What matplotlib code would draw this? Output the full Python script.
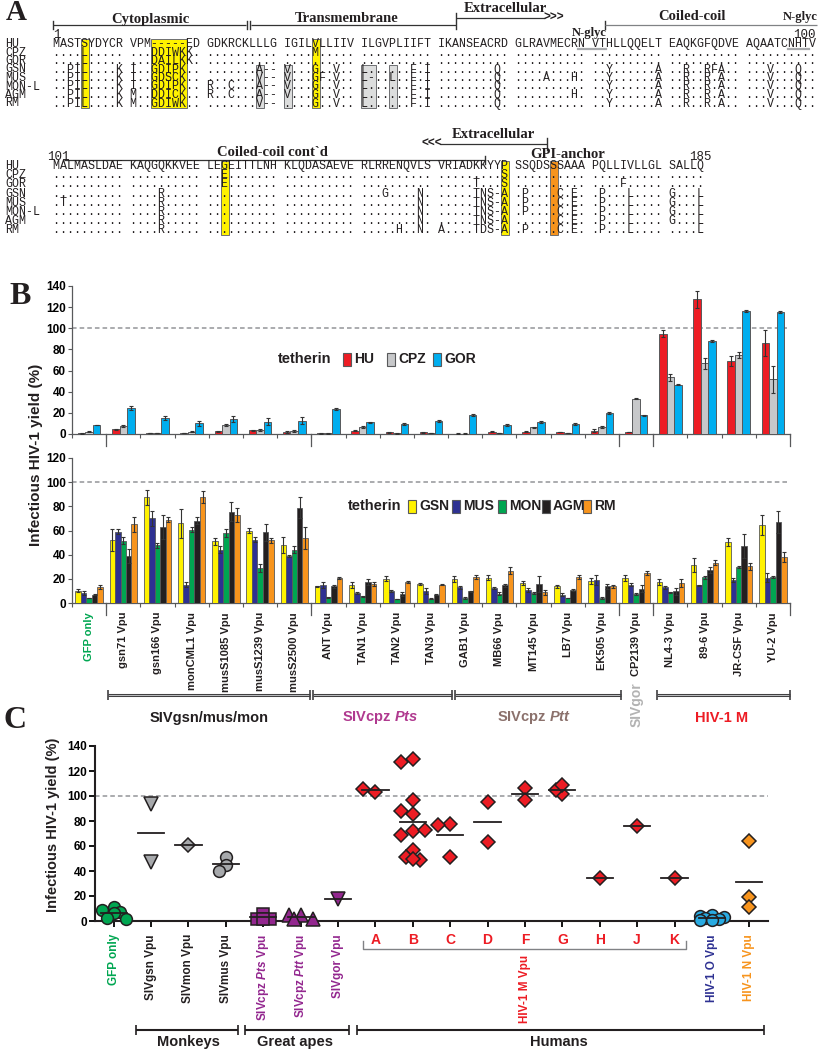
import numpy as np
import matplotlib.pyplot as plt
from matplotlib.patches import Rectangle
from matplotlib.transforms import blended_transform_factory

plt.rcParams['font.family'] = ['Liberation Sans', 'DejaVu Sans']
plt.rcParams['mathtext.fontset'] = 'custom'
plt.rcParams['mathtext.rm'] = 'Liberation Sans:bold'
plt.rcParams['mathtext.it'] = 'Liberation Sans:bold:italic'
plt.rcParams['mathtext.bf'] = 'Liberation Sans:bold'

# ---------------- A: tetherin alignment ----------------
names = ['HU', 'CPZ', 'GOR', 'GSN', 'MUS', 'MON-L', 'AGM', 'RM']
aln1 = [
    "MASTSYDYCR VPM-----ED GDKRCKLLLG IGILVLLIIV ILGVPLIIFT IKANSEACRD GLRAVMECRN VTHLLQQELT EAQKGFQDVE AQAATCNHTV",
    "....L..... ...DDIWKK. .......... ....M..... .......... .......... .......... .......... .......... ..........",
    "....L..... ...DAILKK. .......... .......... .......... .......... .......... .......... .......... ..........",
    "..PIL....K I..GDIPK.. .......A-- V...G..V.. L......F.I ........Q. .......... ..Y......A ..R..RFA.. ...V...Q..",
    "..PIL....K I..GDSCK.. .......V-- V...GF.V.. L-..L..F.I ........Q. ....A...H. ..Y......A ..R..R.A.. ...V...Q..",
    "..PIL....K I..GDIPK.. R..C...A-- V...G..V.. L......F.I ........Q. .......... ..Y......A ..R..R.A.. ...V...Q..",
    "..PIL....K M..DDICK.. R..C...A-- V...G..V.. L......F.I ........Q. ........H. ..Y......A ..R..R.A.. ...V...Q..",
    "..PIL....K M..GDIWK.. .......V-- ....G..V.. L......F.I ........Q. .......... ..Y......A ..R..R.A.. ...V...Q..",
]
aln2 = [
    "MALMASLDAE KAQGQKKVEE LEGEITTLNH KLQDASAEVE RLRRENQVLS VRIADKKYYP SSQDSSSAAA PQLLIVLLGL SALLQ",
    ".......... .......... ..E....... .......... .......... .........S .......... .......... .....",
    ".......... .......... ..E....... .......... .......... .....T...S .......... ....F..... .....",
    ".......... ....R..... .......... .......... ...G....N. .....TNS-A .P....C.E. .P...L.... G...L",
    ".T........ ....R..... .......... .......... ........N. .....TNS-A .P....C.E. .P...L.... G...L",
    ".......... ....R..... .......... .......... ........N. .....TNS-A .P....C.E. .P...L.... G...L",
    ".......... ....R..... .......... .......... ........N. .....TNS-A ......C.E. .P...L.... G...L",
    ".......... ....R..... .......... .......... .....H..N. A....TDS-A .P....C.E. .P...L.... ....L",
]

# ---------------- B: infectious yield with tetherin variants ----------------
cats_b = ['GFP only', 'gsn71 Vpu', 'gsn166 Vpu', 'monCML1 Vpu', 'musS1085 Vpu', 'musS1239 Vpu',
          'musS2500 Vpu', 'ANT Vpu', 'TAN1 Vpu', 'TAN2 Vpu', 'TAN3 Vpu', 'GAB1 Vpu', 'MB66 Vpu',
          'MT145 Vpu', 'LB7 Vpu', 'EK505 Vpu', 'CP2139 Vpu', 'NL4-3 Vpu', '89-6 Vpu', 'JR-CSF Vpu',
          'YU-2 Vpu']
hu = [0.5, 4.4, 1, 1, 2.8, 3.5, 2, 0.5, 3, 1.5, 1.5, 0.3, 2.2, 2.3, 2, 3, 1.9, 95, 127.5, 69, 86]
hu_err = [0.3, 0.5, 0.3, 0.3, 0.5, 0.5, 0.8, 0.3, 0.5, 0.3, 0.3, 0.3, 0.3, 0.3, 0.3, 1.5, 0.3, 3, 8, 5, 12]
cpz = [2, 7.6, 1, 2.2, 8.5, 4.1, 3, 0.5, 6.3, 0.5, 1, 0.3, 1, 6.3, 1, 6.3, 33.4, 53.6, 66.8, 74.7, 51.7]
cpz_err = [0.5, 1, 0.3, 0.5, 0.5, 1, 0.8, 0.3, 0.8, 0.3, 0.3, 0.3, 0.3, 0.5, 0.3, 0.8, 0.5, 3, 5, 3, 13]
gor = [8.5, 24.3, 14.8, 10, 13.9, 11.7, 12.6, 23.3, 11, 9.4, 12.5, 18, 8.5, 11.6, 9.4, 19.5, 17.9, 46.4, 88.3, 116, 115.7]
gor_err = [0.3, 2, 2, 2.5, 3, 3.5, 3.5, 1, 0.5, 1, 1, 0.5, 0.8, 1, 0.8, 1, 0.5, 0.5, 1, 1, 1]

gsn = [10.2, 52, 87.5, 66, 51, 60, 48, 13.8, 15.2, 20, 15.7, 20, 21, 16.5, 13.8, 18.5, 21, 17.5, 31.5, 50.5, 64.5]
gsn_err = [1, 9, 6, 12, 3, 2, 7, 0.5, 2.5, 2, 1, 2.5, 2, 2, 1, 2.5, 2.5, 2.5, 5.5, 3.5, 8]
mus = [8.3, 59, 70, 15, 44, 52.5, 39, 15, 8.3, 9.7, 9.7, 13, 12.4, 11, 7, 19.3, 15.2, 13, 14.6, 19, 21]
mus_err = [1.5, 2, 6, 2, 3, 2, 1, 2.5, 0.5, 1, 2.5, 1, 1, 1.5, 1.5, 4, 1, 1, 0.5, 1.5, 4]
mon = [4.1, 51.5, 47.7, 60.7, 58, 29, 44, 4.7, 5.5, 3.3, 3.7, 4.1, 7.7, 8.3, 4.1, 3.9, 7.4, 8.8, 21.2, 29.8, 21.5]
mon_err = [0.3, 3, 2, 2, 3, 3, 3, 0.5, 0.5, 0.3, 0.3, 0.5, 1, 0.5, 0.3, 1, 0.5, 0.5, 1.5, 1, 0.5]
agm = [6.9, 39, 63, 68, 75.5, 58.5, 79, 13.8, 17.4, 7.7, 6.9, 9.7, 14.6, 16, 11, 13.8, 12, 9.7, 27.6, 47, 67]
agm_err = [0.5, 6, 10, 3, 8, 7, 9, 1.5, 2.5, 1.5, 0.5, 0.5, 1.5, 6.5, 1, 2, 3, 3, 2.5, 10, 9]
rm = [13, 65, 69, 88, 73, 52, 53.5, 20.7, 15.7, 17.4, 15.2, 21.5, 26.8, 8.8, 21.5, 13.8, 24.8, 16.6, 33.4, 30.3, 38]
rm_err = [1.5, 6, 2, 5, 6, 2, 9, 1, 1.5, 0.5, 0.5, 1.5, 3, 2, 1.5, 1.5, 2, 3, 2, 3, 4]

# ---------------- C: summary scatter ----------------
gfp_c = [11.5, 9, 7.5, 6.5, 2.5, 2]
gsn_c = [94, 47]
mon_c = [60.5]
mus_c = [51.5, 44.5, 40]
pts_c = [6, 2, 2, 1.5]
ptt_c = [5, 4.5, 2, 1.5]
gor_c = [18]
m_a = [103, 106]
m_b = [129.5, 127.5, 97, 86, 88, 72, 69, 72.5, 57, 51, 48.5, 50]
m_c = [78, 76.5, 51]
m_d = [95.5, 63]
m_f = [106.5, 96.5]
m_g = [101.5, 105, 109]
m_h = [34.5]
m_j = [76]
m_k = [34.5]
o_c = [5, 4, 3, 2.5, 1.5, 1, 0.5]
n_c = [64, 19, 11]

W, H = 821, 1050
fig = plt.figure(figsize=(W / 100, H / 100), dpi=100)
ov = fig.add_axes([0, 0, 1, 1])
ov.set_xlim(0, W)
ov.set_ylim(H, 0)
ov.axis('off')


def frame(l, t, r, b):
    return [l / W, 1 - b / H, (r - l) / W, (b - t) / H]


dark = '#231f20'
serif = 'Liberation Serif'

# ---------- panel A ----------
mono = 'Liberation Mono'
fs_seq = 8.4
cw = 0.6 * fs_seq * 100 / 72  # px per character
sx = 53
yellow, grey, orange = '#fff200', '#dcdddd', '#f7941d'


def alignment(rows, y0, dy, boxes):
    for r, (nm, s) in enumerate(zip(names, rows)):
        y = y0 + r * dy
        ov.text(5, y, nm, family=mono, fontsize=fs_seq, va='center', color=dark, zorder=3)
        ov.text(sx, y, s, family=mono, fontsize=fs_seq, va='center', color=dark, zorder=3)
    for c, n, r0, r1, fc in boxes:
        ov.add_patch(Rectangle((sx + c * cw - 0.5, y0 + (r0 - 0.5) * dy - 0.5), n * cw + 1,
                               (r1 - r0 + 1) * dy + 1, fc=fc, ec='#6d6e71', lw=0.7, zorder=1))


y1, y2 = 44, 166
alignment(aln1, y1, 8.5, [(4, 1, 0, 7, yellow), (14, 5, 0, 7, yellow), (37, 1, 0, 7, yellow),
                          (29, 1, 3, 7, grey), (33, 1, 3, 7, grey), (44, 2, 3, 7, grey), (48, 1, 3, 7, grey)])
alignment(aln2, y2, 9.2, [(24, 1, 0, 7, yellow), (64, 1, 0, 7, yellow), (71, 1, 0, 7, orange)])

# N-glyc underlines
for c0, c1 in [(75, 79), (105, 108)]:
    ov.plot([sx + c0 * cw, sx + c1 * cw], [y1 + 5, y1 + 5], color='#a7a9ac', lw=1.6, zorder=2)


def hdr(x, y, s, size=10.5, ha='center'):
    ov.text(x, y, s, family=serif, weight='bold', fontsize=size, ha=ha, va='center', color=dark)


def hline(xa, xb, y, lw=0.9, color='#333333'):
    ov.plot([xa, xb], [y, y], color=color, lw=lw, solid_capstyle='butt')


def vline(x, ya, yb, lw=1.0):
    ov.plot([x, x], [ya, yb], color='#333333', lw=lw)


ov.text(16, 13, 'A', family=serif, weight='bold', fontsize=21, ha='center', va='center', color=dark)
hdr(150, 19, 'Cytoplasmic')
hline(53, 246, 25)
vline(53, 21, 29)
vline(247, 21, 29)
vline(250, 21, 29)
hline(251, 456, 25)
hdr(347, 19, 'Transmembrane')
vline(456, 13, 29)
hline(456, 545, 18)
hdr(505, 9, 'Extracellular')
ov.text(544, 18, '>>>', weight='bold', fontsize=8.5, va='center', ha='left', color=dark)
vline(605, 21, 29)
hline(605, 817, 25, color='#808285')
hdr(692, 17, 'Coiled-coil')
hdr(800, 17, 'N-glyc', size=9)
hdr(589, 33, 'N-glyc', size=9)
ov.text(53, 35, '1', family=mono, fontsize=9, va='center', ha='left', color=dark)
ov.text(816, 35, '100', family=mono, fontsize=9, va='center', ha='right', color=dark)

ov.text(47, 157, '101', family=mono, fontsize=9, va='center', ha='left', color=dark)
hline(64, 485, 160)
vline(485, 156, 164)
hdr(272, 153, 'Coiled-coil cont`d')
hdr(493, 135, 'Extracellular')
ov.text(422, 144, '<<<', weight='bold', fontsize=8.5, va='center', ha='left', color=dark)
hline(440, 547, 144)
vline(547, 138, 150)
hdr(568, 155, 'GPI-anchor')
ov.text(700, 157, '185', family=mono, fontsize=9, va='center', ha='center', color=dark)

# ---------- panel B ----------
ov.text(20, 296, 'B', family=serif, weight='bold', fontsize=23, ha='center', va='center', color=dark)
xb = np.arange(len(cats_b))
axT = fig.add_axes(frame(72, 286, 790, 434))
axB = fig.add_axes(frame(72, 458, 790, 603))

edge = '#58595b'
top_sets = [(hu, hu_err, '#ed1c24'), (cpz, cpz_err, '#c7c8ca'), (gor, gor_err, '#00aeef')]
for k, (v, e, col) in enumerate(top_sets):
    off = (k - 1) * 0.22
    axT.bar(xb + off, v, 0.22, color=col, edgecolor=edge, lw=0.7, zorder=3)
    axT.errorbar(xb + off, v, yerr=e, fmt='none', ecolor='#333333', elinewidth=0.8,
                 capsize=1.6, capthick=0.8, zorder=4)

bot_sets = [(gsn, gsn_err, '#fff200'), (mus, mus_err, '#2e3192'), (mon, mon_err, '#00a651'),
            (agm, agm_err, '#231f20'), (rm, rm_err, '#f7941d')]
for k, (v, e, col) in enumerate(bot_sets):
    off = (k - 2) * 0.16
    axB.bar(xb + off, v, 0.16, color=col, edgecolor=edge, lw=0.6, zorder=3)
    axB.errorbar(xb + off, v, yerr=e, fmt='none', ecolor='#333333', elinewidth=0.8,
                 capsize=1.4, capthick=0.8, zorder=4)

group_edges = [0.5, 6.5, 15.5, 16.5, 20.5]
for ax, ymax, hpx in [(axT, 140, 148), (axB, 120, 145)]:
    ax.set_facecolor('none')
    ax.set_xlim(-0.5, 20.5)
    ax.set_ylim(0, ymax)
    for s in ['top', 'right']:
        ax.spines[s].set_visible(False)
    for s in ['left', 'bottom']:
        ax.spines[s].set_color(edge)
        ax.spines[s].set_linewidth(0.9)
    ax.spines['left'].set_bounds(0, ymax)
    ax.set_yticks(range(0, ymax + 1, 20))
    ax.tick_params(axis='y', length=3, width=0.8, color=edge, labelsize=8.5, pad=1.5)
    for t in ax.get_yticklabels():
        t.set_fontweight('bold')
    ax.set_xticks(np.arange(-0.5, 21, 1))
    ax.set_xticklabels([])
    ax.tick_params(axis='x', length=3, width=0.8, color=edge)
    ax.axhline(100, color='#939598', ls=(0, (3, 2)), lw=1.1, zorder=1)
    for g in group_edges:
        ax.plot([g, g], [0, -12 / hpx], transform=ax.get_xaxis_transform(), clip_on=False,
                color=edge, lw=0.9)


# legends
def legend_row(x, y, items):
    ov.text(x, y, 'tetherin', fontsize=10.5, weight='bold', va='center', ha='left', color=dark)
    for px, lab, col in items:
        ov.add_patch(Rectangle((px, y - 6.5), 8, 13, fc=col, ec=edge, lw=0.8))
        ov.text(px + 11, y, lab, fontsize=10, weight='bold', va='center', ha='left', color=dark)


legend_row(278, 359, [(343, 'HU', '#ed1c24'), (387, 'CPZ', '#c7c8ca'), (433, 'GOR', '#00aeef')])
legend_row(348, 506, [(408, 'GSN', '#fff200'), (452, 'MUS', '#2e3192'), (498, 'MON', '#00a651'),
                      (542, 'AGM', '#231f20'), (583, 'RM', '#f7941d')])

ov.text(36, 455, 'Infectious HIV-1 yield (%)', rotation=90, fontsize=11, weight='bold',
        ha='center', va='center', color=dark)

trB = blended_transform_factory(axB.transData, ov.transData)
for i, lab in enumerate(cats_b):
    axB.text(i, 612, lab, transform=trB, rotation=90, ha='center', va='top', fontsize=8,
             weight='bold', color='#00a651' if i == 0 else dark)


def bracket(tr, xa, xb_, y, tick=5, inner=True, color='#414042', lw=2.2):
    kw = dict(transform=tr, clip_on=False, color=color, solid_capstyle='butt')
    ov.plot([xa, xb_], [y, y], lw=lw, **kw)
    if inner:
        ov.plot([xa, xb_], [y, y], transform=tr, clip_on=False, color='#bcbec0', lw=0.7)
    ov.plot([xa, xa], [y - tick, y + tick], lw=1.2, **kw)
    ov.plot([xb_, xb_], [y - tick, y + tick], lw=1.2, **kw)


for xa, xb_ in [(0.55, 6.45), (6.55, 10.6), (10.7, 15.55), (16.6, 20.5)]:
    bracket(trB, xa, xb_, 695)
ov.text(3.5, 718, 'SIVgsn/mus/mon', transform=trB, ha='center', va='center', fontsize=10.5,
        weight='bold', color=dark)
ov.text(8.5, 718, r'SIVcpz $\mathit{Pts}$', transform=trB, ha='center', va='center', fontsize=10.5,
        weight='bold', color='#b0398f')
ov.text(13, 718, r'SIVcpz $\mathit{Ptt}$', transform=trB, ha='center', va='center', fontsize=10.5,
        weight='bold', color='#8b716c')
ov.text(18.5, 718, 'HIV-1 M', transform=trB, ha='center', va='center', fontsize=10.5,
        weight='bold', color='#ed1c24')
ov.text(16, 705, 'SIVgor', transform=trB, rotation=90, ha='center', va='center', fontsize=10,
        weight='bold', color='#b3b3b3')

# ---------- panel C ----------
ov.text(15, 721, 'C', family=serif, weight='bold', fontsize=23, ha='center', va='center', color=dark)
axC = fig.add_axes(frame(95, 746, 768, 921))
axC.set_facecolor('none')
axC.set_xlim(-0.5, 17.5)
axC.set_ylim(0, 140)
for s in ['top', 'right']:
    axC.spines[s].set_visible(False)
for s in ['left', 'bottom']:
    axC.spines[s].set_linewidth(1.5)
    axC.spines[s].set_color(dark)
axC.set_yticks(range(0, 141, 20))
axC.tick_params(axis='y', length=4, width=1.3, labelsize=8.5, pad=2)
for t in axC.get_yticklabels():
    t.set_fontweight('bold')
axC.set_xticks(range(18))
axC.set_xticklabels([])
axC.tick_params(axis='x', length=4, width=1.3)
axC.axhline(100, color='#939598', ls=(0, (3, 2)), lw=1.1, zorder=1)

red, gray_m, purple = '#ed1c24', '#a7a9ac', '#93278f'
groups_c = [(gfp_c, 'o', '#00a651'), (gsn_c, 'v', gray_m), (mon_c, 'D', gray_m), (mus_c, 'o', gray_m),
            (pts_c, 's', purple), (ptt_c, '^', purple), (gor_c, 'v', purple),
            (m_a, 'D', red), (m_b, 'D', red), (m_c, 'D', red), (m_d, 'D', red), (m_f, 'D', red),
            (m_g, 'D', red), (m_h, 'D', red), (m_j, 'D', red), (m_k, 'D', red),
            (o_c, 'o', '#29abe2'), (n_c, 'D', orange)]
ms = {'o': 8.5, 'v': 9.5, '^': 9.5, 's': 8.5, 'D': 7.5}
ppx = 673 / 18.0
ppy = 175 / 140.0


def swarm(vals, thr=8.0):
    # greedy spread: first candidate that keeps the marker clear, else the least crowded one
    placed, offs = [], []
    for v in vals:
        best, best_d = 0, -1
        for o in [0, -0.18, 0.18, -0.32, 0.32]:
            d = min([np.hypot((o - po) * ppx, (v - pv) * ppy) for po, pv in placed] or [99])
            if d >= thr:
                best = o
                break
            if d > best_d:
                best, best_d = o, d
        placed.append((best, v))
        offs.append(best)
    return np.array(offs)


for i, (vals, mk, col) in enumerate(groups_c):
    offs = swarm(vals)
    axC.plot(i + offs, vals, ls='none', marker=mk, ms=ms[mk], mfc=col, mec=dark, mew=1.1,
             zorder=3, clip_on=False)
    axC.plot([i - 0.35, i + 0.35], [np.mean(vals)] * 2, color=dark, lw=1.3, zorder=4)

trC = blended_transform_factory(axC.transData, ov.transData)
cats_c = ['GFP only', 'SIVgsn Vpu', 'SIVmon Vpu', 'SIVmus Vpu', r'SIVcpz $\mathit{Pts}$ Vpu',
          r'SIVcpz $\mathit{Ptt}$ Vpu', 'SIVgor Vpu', 'A', 'B', 'C', 'D', 'F', 'G', 'H', 'J', 'K',
          'HIV-1 O Vpu', 'HIV-1 N Vpu']
cat_colors = ['#00a651', dark, dark, dark, purple, purple, purple] + [red] * 9 + ['#2e3192', orange]
for i, (lab, col) in enumerate(zip(cats_c, cat_colors)):
    if len(lab) == 1:
        axC.text(i, 940, lab, transform=trC, ha='center', va='center', fontsize=10,
                 weight='bold', color=col)
    else:
        axC.text(i, 934, lab, transform=trC, rotation=90, ha='center', va='top', fontsize=8.5,
                 weight='bold', color=col)

# subtype bracket under A..K
ov.plot([6.67, 6.67, 15.3, 15.3], [941, 949, 949, 941], transform=trC, clip_on=False,
        color='#808285', lw=1.0)
axC.text(11, 955, 'HIV-1 M Vpu', transform=trC, rotation=90, ha='center', va='top', fontsize=8.5,
         weight='bold', color=red)

for xa, xb_ in [(0.6, 3.32), (3.5, 6.3), (6.5, 17.4)]:
    bracket(trC, xa, xb_, 1030, tick=5, inner=False, color=dark, lw=1.5)
for xc, lab in [(2.0, 'Monkeys'), (4.85, 'Great apes'), (11.9, 'Humans')]:
    ov.text(xc, 1042, lab, transform=trC, ha='center', va='center', fontsize=10.5,
            weight='bold', color=dark)

ov.text(53, 825, 'Infectious HIV-1 yield (%)', rotation=90, fontsize=10.5, weight='bold',
        ha='center', va='center', color=dark)

fig.savefig('out.png', dpi=100)
